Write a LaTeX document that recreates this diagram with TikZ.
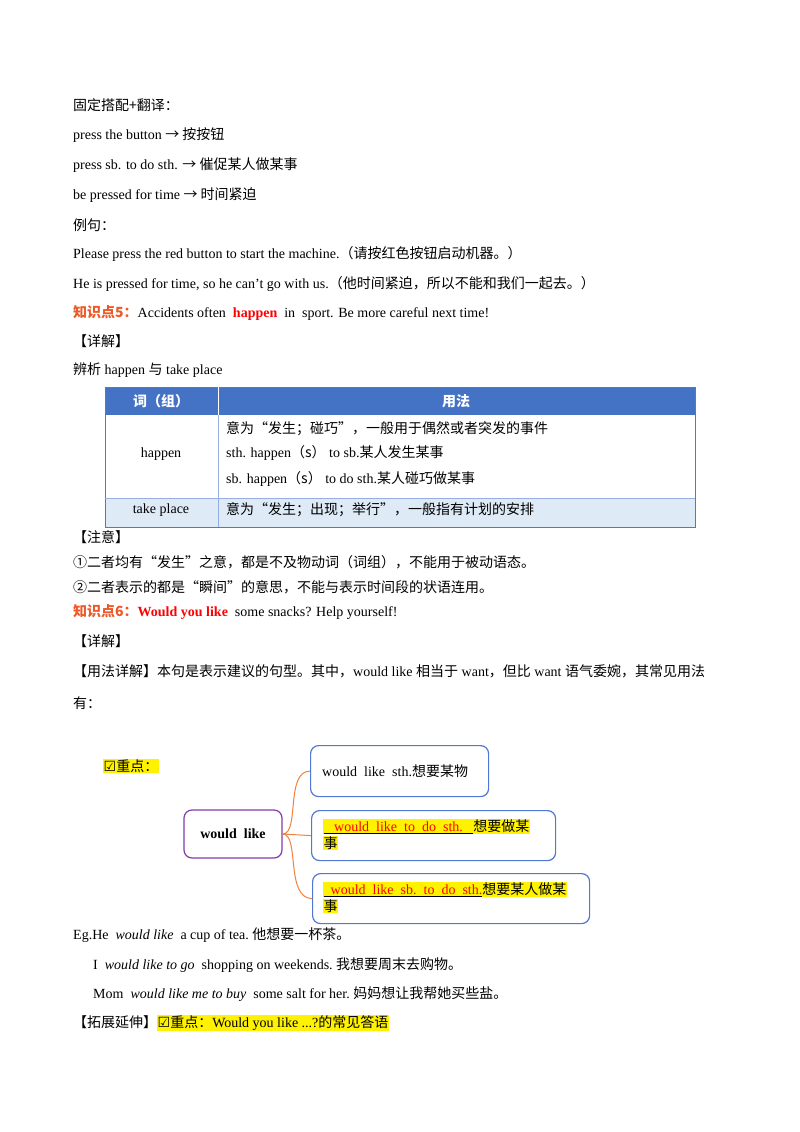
\documentclass[tikz,border=0pt]{standalone}
\usepackage{fontspec}
\setmainfont{Liberation Serif}
\newfontfamily\cjk{Noto Sans CJK SC}
\newfontfamily\sym{DejaVu Sans}
\newcommand\Z[1]{{\cjk #1}}
\newcommand\hl[1]{{\setlength\fboxsep{0.5pt}\colorbox{yellow}{#1}}}
\definecolor{kp}{RGB}{235,90,40}
\definecolor{hdr}{RGB}{68,114,196}
\definecolor{rowb}{RGB}{222,234,246}
\definecolor{brd}{RGB}{80,120,210}
\definecolor{purp}{RGB}{130,60,170}
\definecolor{orng}{RGB}{240,130,60}
\begin{document}
\begin{tikzpicture}[x=1pt,y=-1pt,
  t/.style={anchor=west,inner sep=0pt,font=\fontsize{14}{16}\selectfont},
  box/.style={draw=brd,line width=1.2pt,rounded corners=8pt},
  conn/.style={draw=orng,line width=1pt}]
\useasboundingbox[fill=white] (0,0) rectangle (800,1132);
\node[t] (l1) at (73,105) {\Z{固定搭配+翻译：}};
\node[t] (l2) at (73,135) {press the button \Z{→ 按按钮}};
\node[t] (l3) at (73,165) {press sb. to do sth. \Z{→ 催促某人做某事}};
\node[t] (l4) at (73,195) {be pressed for time \Z{→ 时间紧迫}};
\node[t] (l5) at (73,225) {\Z{例句：}};
\node[t] (l6) at (73,254) {Please press the red button to start the machine.\Z{（请按红色按钮启动机器。）}};
\node[t] (l7) at (73,284) {He is pressed for time, so he can't go with us.\Z{（他时间紧迫，所以不能和我们一起去。）}};
\node[t] (l8) at (73,313) {\textcolor{kp}{\Z{\bfseries 知识点5：}}Accidents often\ \ \textcolor{red}{\bfseries happen}\ \ in\ \ sport. Be more careful next time!};
\node[t] (l9) at (73,341) {\Z{【详解】}};
\node[t] (l10) at (73,370) {\Z{辨析} happen \Z{与} take place};
% table
\fill[hdr] (105,387) rectangle (695,415);
\fill[rowb] (105,498) rectangle (695,527);
\draw[brd,line width=1pt] (105,387) rectangle (695,527);
\draw[white,line width=1pt] (218,387) -- (218,415);
\draw[brd!60,line width=0.8pt] (218,415) -- (218,527) (105,498) -- (695,498);
\node[t,anchor=center,text=white] (h1) at (161,401) {\Z{\bfseries 词（组）}};
\node[t,anchor=center,text=white] (h2) at (456,401) {\Z{\bfseries 用法}};
\node[t,anchor=center] (c1) at (161,454) {happen};
\node[t] (c2) at (226,429) {\Z{意为“发生；碰巧”，一般用于偶然或者突发的事件}};
\node[t] (c3) at (226,453) {sth. happen\Z{（s）}\ to sb.\Z{某人发生某事}};
\node[t] (c4) at (226,479) {sb. happen\Z{（s）}\ to do sth.\Z{某人碰巧做某事}};
\node[t,anchor=center] (c5) at (161,510) {take place};
\node[t] (c6) at (226,510) {\Z{意为“发生；出现；举行”，一般指有计划的安排}};
\node[t] (n1) at (73,537) {\Z{【注意】}};
\node[t] (n2) at (73,562) {\Z{①二者均有“发生”之意，都是不及物动词（词组），不能用于被动语态。}};
\node[t] (n3) at (73,587) {\Z{②二者表示的都是“瞬间”的意思，不能与表示时间段的状语连用。}};
\node[t] (n4) at (73,612) {\textcolor{kp}{\Z{\bfseries 知识点6：}}\textcolor{red}{\bfseries Would you like}\ \ some snacks? Help yourself!};
\node[t] (n5) at (73,641) {\Z{【详解】}};
\node[t] (n6) at (73,671) {\Z{【用法详解】本句是表示建议的句型。其中，}would like \Z{相当于} want\Z{，但比} want \Z{语气委婉，其常见用法}};
\node[t] (n7) at (73,703) {\Z{有：}};
\node[t] (zd) at (103,766) {\hl{{\sym ☑}\Z{重点：}}};
% mind map
\node[draw=purp,line width=1.2pt,rounded corners=8pt,minimum width=98pt,minimum height=48pt,font=\fontsize{14}{16}\selectfont\bfseries] (wl) at (233,834) {would\ \ like};
\node[box,minimum width=178pt,minimum height=51pt,anchor=north west] (b1) at (310,745) {};
\node[t] (b1t) at (322,771) {would\ \ like\ \ sth.\Z{想要某物}};
\node[box,minimum width=244pt,minimum height=50pt,anchor=north west] (b2) at (311,810) {};
\node[t,anchor=north west,align=left] (b2t) at (323,819) {\hl{\underline{\textcolor{red}{\ \ \ would\ \ like\ \ to\ \ do\ \ sth.\ \ \ }}\Z{想要做某}}\\[1pt]\hl{\Z{事}}};
\node[box,minimum width=277pt,minimum height=50pt,anchor=north west] (b3) at (312,873) {};
\node[t,anchor=north west,align=left] (b3t) at (323,882) {\hl{\underline{\textcolor{red}{\ \ would\ \ like\ \ sb.\ \ to\ \ do\ \ sth.}}\Z{想要某人做某}}\\[1pt]\hl{\Z{事}}};
\draw[conn] (wl.east) .. controls (300,834) and (285,771) .. (b1.west);
\draw[conn] (wl.east) -- (b2.west);
\draw[conn] (wl.east) .. controls (300,834) and (285,898) .. (b3.west);
\node[t] (e1) at (73,935) {Eg.He\ \ \textit{would like}\ \ a cup of tea.\ \Z{他想要一杯茶。}};
\node[t] (e2) at (93,965) {I\ \ \textit{would like to go}\ \ shopping on weekends.\ \Z{我想要周末去购物。}};
\node[t] (e3) at (93,994) {Mom\ \ \textit{would like me to buy}\ \ some salt for her.\ \Z{妈妈想让我帮她买些盐。}};
\node[t] (e4) at (73,1023) {\Z{【拓展延伸】}\hl{{\sym ☑}\Z{重点：}Would you like ...?\Z{的常见答语}}};
\end{tikzpicture}
\end{document}
